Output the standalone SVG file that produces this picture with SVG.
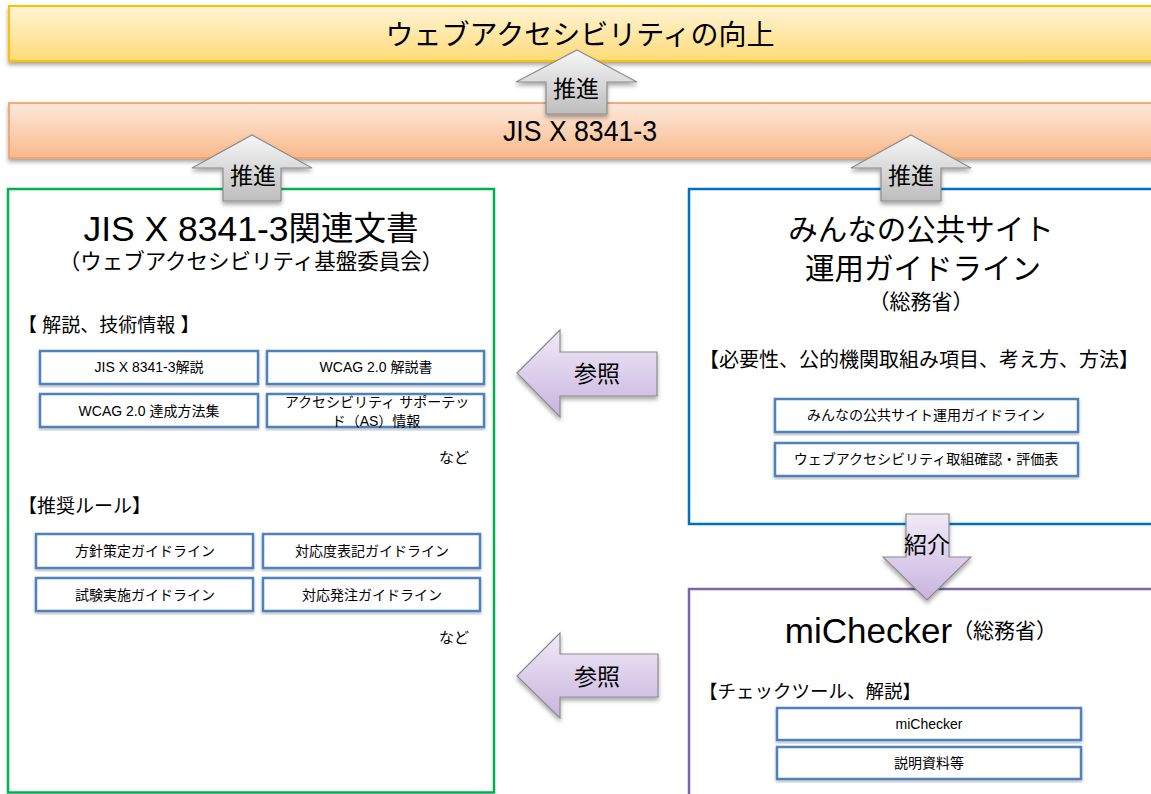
<svg xmlns="http://www.w3.org/2000/svg" width="1151" height="794" viewBox="0 0 1151 794">
<defs>
<linearGradient id="gY" x1="0" y1="0" x2="0" y2="1"><stop offset="0" stop-color="#fff4d6"/><stop offset="1" stop-color="#ffdb78"/></linearGradient>
<linearGradient id="gO" x1="0" y1="0" x2="0" y2="1"><stop offset="0" stop-color="#fde9dc"/><stop offset="1" stop-color="#f9b98a"/></linearGradient>
<linearGradient id="gG" x1="0" y1="0" x2="0" y2="1"><stop offset="0" stop-color="#f7f7f7"/><stop offset="1" stop-color="#bdbdbd"/></linearGradient>
<linearGradient id="gP" x1="0" y1="0" x2="0" y2="1"><stop offset="0" stop-color="#f0eaf7"/><stop offset="1" stop-color="#c8b4df"/></linearGradient>
<filter id="sh" x="-5%" y="-20%" width="115%" height="160%"><feDropShadow dx="0" dy="3" stdDeviation="2" flood-color="#000" flood-opacity="0.35"/></filter>
<filter id="sh2" x="-5%" y="-5%" width="115%" height="115%"><feDropShadow dx="0" dy="2" stdDeviation="1.5" flood-color="#000" flood-opacity="0.25"/></filter>
</defs>
<style>
text{font-family:"Liberation Sans","Noto Sans CJK JP",sans-serif;fill:#000;}
.c{text-anchor:middle;dominant-baseline:central;}
.l{dominant-baseline:central;}
.sb{fill:#fff;stroke:#4f81bd;stroke-width:2.5;filter:url(#sh2);}
.st{font-size:14px;}
.ga{fill:url(#gG);stroke:#8c8c8c;stroke-width:1.2;filter:url(#sh);}
.pa{fill:url(#gP);stroke:#8c8c8c;stroke-width:1.2;filter:url(#sh);}
.al{font-size:23px;}
</style>

<g id="goal">
<rect x="9" y="6" width="1160" height="55" fill="url(#gY)" stroke="#ffc000" stroke-width="2" filter="url(#sh)"/>
<text class="c" x="580" y="35" style="font-size:28px">ウェブアクセシビリティの向上</text>
</g>

<g id="jis">
<rect x="9" y="103" width="1160" height="55" fill="url(#gO)" stroke="#f4a26a" stroke-width="1.8" filter="url(#sh)"/>
<text class="c" x="580" y="131" style="font-size:29px" textLength="154" lengthAdjust="spacingAndGlyphs">JIS X 8341-3</text>
</g>

<g id="jis-docs">
<rect x="8" y="189" width="486" height="603.5" fill="#fff" stroke="#00b050" stroke-width="2.5"/>
<text class="c" x="251" y="229"><tspan style="font-size:35.5px">JIS X 8341-3</tspan><tspan style="font-size:32.5px">関連文書</tspan></text>
<text class="c" x="251" y="262" style="font-size:21.5px">（ウェブアクセシビリティ基盤委員会）</text>
<text class="l" x="18" y="325" style="font-size:19px">【 解説、技術情報 】</text>
<rect class="sb" x="40" y="351" width="218" height="33"/>
<rect class="sb" x="267" y="351" width="217" height="33"/>
<rect class="sb" x="40" y="394" width="218" height="33"/>
<rect class="sb" x="267" y="394" width="217" height="33"/>
<text class="c st" x="149" y="367">JIS X 8341-3解説</text>
<text class="c st" x="376" y="367">WCAG 2.0 解説書</text>
<text class="c st" x="149" y="411">WCAG 2.0 達成方法集</text>
<text class="c st" x="377" y="402">アクセシビリティ サポーテッ</text>
<text class="c st" x="376" y="421">ド（AS）情報</text>
<text class="c" x="454" y="457" style="font-size:15px">など</text>
<text class="l" x="18" y="506" style="font-size:19px">【推奨ルール】</text>
<rect class="sb" x="36" y="534" width="217" height="34"/>
<rect class="sb" x="263" y="534" width="217" height="34"/>
<rect class="sb" x="36" y="578" width="217" height="33"/>
<rect class="sb" x="263" y="578" width="217" height="33"/>
<text class="c st" x="145" y="551">方針策定ガイドライン</text>
<text class="c st" x="372" y="551">対応度表記ガイドライン</text>
<text class="c st" x="145" y="595">試験実施ガイドライン</text>
<text class="c st" x="372" y="595">対応発注ガイドライン</text>
<text class="c" x="454" y="637" style="font-size:15px">など</text>
</g>

<g id="guideline">
<rect x="689" y="189" width="480" height="335" fill="#fff" stroke="#0070c0" stroke-width="2.5"/>
<text class="c" x="921" y="229" style="font-size:29.5px">みんなの公共サイト</text>
<text class="c" x="923" y="268" style="font-size:29.5px">運用ガイドライン</text>
<text class="c" x="921" y="301" style="font-size:21px">（総務省）</text>
<text class="c" x="919" y="360" style="font-size:20px">【必要性、公的機関取組み項目、考え方、方法】</text>
<rect class="sb" x="775" y="399" width="303" height="33"/>
<rect class="sb" x="775" y="443" width="303" height="33"/>
<text class="c st" x="926" y="415">みんなの公共サイト運用ガイドライン</text>
<text class="c st" x="926" y="459">ウェブアクセシビリティ取組確認・評価表</text>
</g>

<g id="michecker">
<rect x="689" y="589" width="480" height="220" fill="#fff" stroke="#8064a2" stroke-width="2.5"/>
<text class="c" x="921" y="630"><tspan style="font-size:35px">miChecker</tspan><tspan style="font-size:21px">（総務省）</tspan></text>
<text class="l" x="699" y="691" style="font-size:18.5px">【チェックツール、解説】</text>
<rect class="sb" x="777" y="708" width="304" height="32"/>
<rect class="sb" x="777" y="747" width="304" height="32"/>
<text class="c st" x="929" y="724">miChecker</text>
<text class="c st" x="929" y="763">説明資料等</text>
</g>

<g id="connectors">
<path class="ga" d="M577,50 L637,82 L607,82 L607,114 L546,114 L546,82 L516,82 Z"/>
<text class="c al" x="576" y="89">推進</text>
<path class="ga" d="M252,135 L312,168 L281,168 L281,201 L223,201 L223,168 L192,168 Z"/>
<text class="c al" x="253" y="176">推進</text>
<path class="ga" d="M911,135 L971,168 L941,168 L941,201 L881,201 L881,168 L851,168 Z"/>
<text class="c al" x="911" y="176">推進</text>
<path class="pa" d="M517,373 L560,330 L560,352 L657,352 L657,396 L560,396 L560,417 Z"/>
<text class="c al" x="597" y="374">参照</text>
<path class="pa" d="M517,676 L560,633 L560,654 L658,654 L658,697 L560,697 L560,718 Z"/>
<text class="c al" x="597" y="677">参照</text>
<path class="pa" d="M906,514 L949,514 L949,557 L971,557 L927,600 L883,557 L906,557 Z"/>
<text class="c al" x="927" y="545">紹介</text>
</g>
</svg>
